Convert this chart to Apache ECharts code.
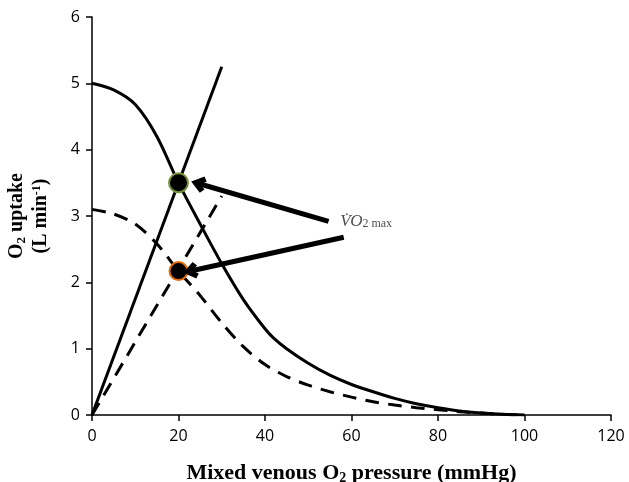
<!DOCTYPE html>
<html>
<head>
<meta charset="utf-8">
<script src="https://cdn.jsdelivr.net/npm/echarts@6/dist/echarts.min.js"></script>
<style>html,body{margin:0;padding:0;background:#fff}#c{width:629px;height:482px}</style>
</head>
<body>
<div id="c"></div>
<script>
// Data
const xTicks = [0, 20, 40, 60, 80, 100, 120];
const yTicks = [0, 1, 2, 3, 4, 5, 6];
const solidCurve = [[0,5.0],[5,4.9],[10,4.68],[15,4.2],[20,3.5],[25,2.88],[30,2.28],[35,1.74],[40,1.3],[42,1.16],[45,1.0],[50,0.78],[55,0.6],[60,0.46],[65,0.35],[70,0.25],[75,0.17],[80,0.11],[85,0.06],[90,0.03],[95,0.01],[100,0]];
const dashedCurve = [[0,3.1],[5,3.03],[10,2.88],[15,2.58],[20,2.17],[25,1.8],[30,1.39],[35,1.03],[40,0.76],[45,0.58],[50,0.45],[55,0.35],[60,0.27],[65,0.2],[70,0.15],[75,0.11],[80,0.08],[85,0.05],[90,0.03],[95,0.01],[100,0]];
const solidLine = [[0,0],[30,5.25]];
const dashedLine = [[0,0],[30,3.3]];
const pointA = [[20,3.5]];
const pointB = [[20,2.17]];
const arrowA = [[54.7,2.92],[24.6,3.49]];
const arrowB = [[58.2,2.68],[22.8,2.17]];
const labelPos = [[57.4,2.91]];

const chevron = 'path://M5,0 L10,7 L7.4,9.2 L5,5.6 L2.6,9.2 L0,7 Z';

const chart = echarts.init(document.getElementById('c'), null, {renderer:'canvas'});
chart.setOption({
  animation: false,
  grid: {left: 92, right: 18, top: 17, bottom: 67, containLabel: false, outerBoundsMode: 'none'},
  xAxis: {
    type: 'value', min: 0, max: 120, interval: 20,
    name: '{b|Mixed venous O}{s|2}{b| pressure (mmHg)}',
    nameLocation: 'middle', nameGap: 46,
    nameTextStyle: {rich: {
      b: {fontFamily: 'Liberation Serif', fontWeight: 'bold', fontSize: 22, color: '#000'},
      s: {fontFamily: 'Liberation Serif', fontWeight: 'bold', fontSize: 14, color: '#000', verticalAlign: 'bottom', padding: [10,0,0,0]}
    }},
    axisLine: {lineStyle: {color: '#000', width: 1.5}},
    axisTick: {show: true, inside: false, length: 6, lineStyle: {color: '#000', width: 1.5}},
    axisLabel: {fontFamily: 'Open Sans', fontSize: 16, color: '#000', margin: 13},
    splitLine: {show: false}
  },
  yAxis: {
    type: 'value', min: 0, max: 6, interval: 1,
    axisLine: {show: true, lineStyle: {color: '#000', width: 1.5}},
    axisTick: {show: true, inside: false, length: 6, lineStyle: {color: '#000', width: 1.5}},
    axisLabel: {fontFamily: 'Open Sans', fontSize: 16, color: '#000', margin: 12},
    splitLine: {show: false}
  },
  graphic: [{
    type: 'text', x: 29, y: 216, rotation: Math.PI/2, z: 10,
    style: {
      text: '{b|O}{s|2}{b| uptake}\n{b|(L min}{p|-1}{b|)}',
      x: 0, y: 0, align: 'center', verticalAlign: 'middle',
      rich: {
        b: {fontFamily: 'Liberation Serif', fontWeight: 'bold', fontSize: 20, color: '#000', lineHeight: 24},
        s: {fontFamily: 'Liberation Serif', fontWeight: 'bold', fontSize: 13, color: '#000', lineHeight: 24, padding: [10,0,0,0]},
        p: {fontFamily: 'Liberation Serif', fontWeight: 'bold', fontSize: 12, color: '#000', lineHeight: 24, padding: [0,0,9,0]}
      }
    }
  }],
  series: [
    {type: 'line', data: solidCurve, smooth: 0.3, symbol: 'none', lineStyle: {color: '#000', width: 3}, z: 2},
    {type: 'line', data: dashedCurve, smooth: 0.3, symbol: 'none', lineStyle: {color: '#000', width: 3, type: [14, 9]}, z: 2},
    {type: 'line', data: solidLine, symbol: 'none', lineStyle: {color: '#000', width: 3}, z: 2},
    {type: 'line', data: dashedLine, symbol: 'none', lineStyle: {color: '#000', width: 3, type: [14, 9]}, z: 2},
    {type: 'scatter', data: pointA, symbol: 'circle', symbolSize: 19, itemStyle: {color: '#000', opacity: 1, borderColor: '#77933C', borderWidth: 2}, z: 4},
    {type: 'scatter', data: pointB, symbol: 'circle', symbolSize: 18, itemStyle: {color: '#000', opacity: 1, borderColor: '#E46C0A', borderWidth: 2}, z: 4},
    {type: 'scatter', data: labelPos, symbolSize: 0, silent: true, z: 5,
      label: {show: true, position: 'right', distance: 0,
        formatter: '{v|V\u0307O}{s|2 max}',
        rich: {
          v: {fontFamily: 'Liberation Serif', fontStyle: 'italic', fontSize: 17, color: '#222'},
          s: {fontFamily: 'Liberation Serif', fontSize: 12, color: '#222', padding: [4,0,0,0]}
        }}
    },
    {type: 'line', data: [], z: 6,
      markLine: {
        silent: true, animation: false,
        symbol: ['none', chevron], symbolSize: [17, 15],
        label: {show: false},
        lineStyle: {color: '#000', width: 5, type: 'solid'},
        data: [
          [{coord: arrowA[0]}, {coord: arrowA[1]}],
          [{coord: arrowB[0]}, {coord: arrowB[1]}]
        ]
      }
    }
  ]
});
</script>
</body>
</html>
